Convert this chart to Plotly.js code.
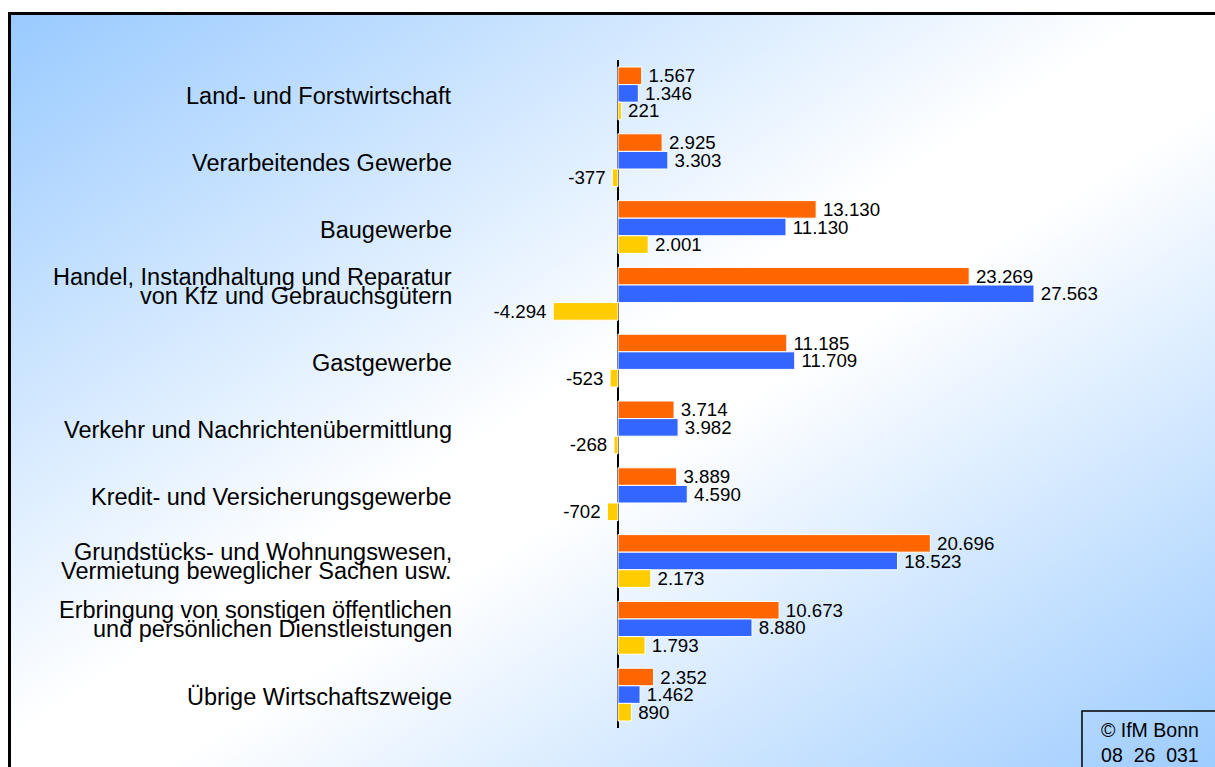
<!DOCTYPE html>
<html>
<head>
<meta charset="utf-8">
<script src="https://cdn.plot.ly/plotly-3.0.1.min.js"></script>
<style>
  html, body { margin: 0; padding: 0; width: 1215px; height: 767px; overflow: hidden; background: #ffffff; }
  #frame {
    position: absolute; left: 8px; top: 12px; width: 1220px; height: 770px;
    border: 3px solid #000000;
    background: linear-gradient(to bottom right, #99caff 0%, #ffffff 47%, #ffffff 55%, #99caff 100%);
  }
  #chart { position: absolute; left: 0; top: 0; width: 1215px; height: 767px; }
</style>
</head>
<body>
<div id="frame"></div>
<div id="chart"></div>
<script>
// Categories (top to bottom); "<br>" marks a line break in the label
const categories = [
  "Land- und Forstwirtschaft",
  "Verarbeitendes Gewerbe",
  "Baugewerbe",
  "Handel, Instandhaltung und Reparatur<br>von Kfz und Gebrauchsgütern",
  "Gastgewerbe",
  "Verkehr und Nachrichtenübermittlung",
  "Kredit- und Versicherungsgewerbe",
  "Grundstücks- und Wohnungswesen,<br>Vermietung beweglicher Sachen usw.",
  "Erbringung von sonstigen öffentlichen<br>und persönlichen Dienstleistungen",
  "Übrige Wirtschaftszweige"
];
// Series values
const seriesOrange = [1567, 2925, 13130, 23269, 11185, 3714, 3889, 20696, 10673, 2352];
const seriesBlue   = [1346, 3303, 11130, 27563, 11709, 3982, 4590, 18523, 8880, 1462];
const seriesYellow = [221, -377, 2001, -4294, -523, -268, -702, 2173, 1793, 890];

const copyrightLines = ["© IfM Bonn", "08\u00a0\u00a026\u00a0\u00a0031"];

// label vertical nudges (px, positive = up) – pure styling
const labelLift = { 3: 7, 8: 8 };
const LINE_GAP = 19;

function fmtDE(v) {
  const neg = v < 0;
  let s = String(Math.abs(v));
  s = s.replace(/\B(?=(\d{3})+(?!\d))/g, ".");
  return neg ? "-" + s + "\u2009" : "\u2009" + s;
}

const FONT = "Arial, 'Liberation Sans', sans-serif";
const mk = (vals, color) => ({
  type: "bar",
  orientation: "h",
  y: categories,
  x: vals,
  text: vals.map(fmtDE),
  textposition: "outside",
  textfont: { family: FONT, size: 18.7, color: "#000000" },
  constraintext: "none",
  cliponaxis: false,
  marker: { color: color, line: { color: "#ffffff", width: 1 } },
  hoverinfo: "x+y"
});

const data = [
  mk(seriesOrange, "#ff6600"),
  mk(seriesBlue, "#3366ff"),
  mk(seriesYellow, "#ffcc00")
];

const annotations = [];
categories.forEach((c, ci) => {
  const lines = c.split("<br>");
  const n = lines.length;
  const lift = n > 1 ? (labelLift[ci] || 0) : -2.5;
  lines.forEach((ln, i) => {
    annotations.push({
      xref: "paper", yref: "y", x: 0, y: c,
      xanchor: "right", yanchor: "middle",
      xshift: -16,
      yshift: (n - 1) * LINE_GAP / 2 - i * LINE_GAP + lift,
      text: ln, showarrow: false,
      font: { family: FONT, size: 23.5, color: "#000000" }
    });
  });
});
annotations.push({
  xref: "paper", yref: "paper", x: 1.079, y: -0.0215,
  xanchor: "center", yanchor: "middle",
  text: copyrightLines.join("<br>"), showarrow: false,
  font: { family: FONT, size: 19.5, color: "#000000" }
});

const layout = {
  width: 1215, height: 767,
  margin: { l: 470, r: 115, t: 60, b: 39 },
  paper_bgcolor: "rgba(0,0,0,0)",
  plot_bgcolor: "rgba(0,0,0,0)",
  barmode: "group",
  bargap: 0.21,
  bargroupgap: 0,
  showlegend: false,
  xaxis: {
    range: [-9806, 31935],
    showgrid: false, showticklabels: false, ticks: "",
    zeroline: true, zerolinecolor: "#000000", zerolinewidth: 1.5,
    showline: false, fixedrange: true
  },
  yaxis: {
    type: "category",
    autorange: "reversed",
    showgrid: false, showticklabels: false, ticks: "",
    zeroline: false, showline: false, fixedrange: true
  },
  shapes: [{
    type: "rect", xref: "paper", yref: "paper",
    x0: 0.9714, x1: 1.4, y0: 0.0255, y1: -0.2,
    line: { color: "#000000", width: 1.5 },
    fillcolor: "rgba(0,0,0,0)"
  }],
  annotations: annotations
};

Plotly.newPlot("chart", data, layout, { displayModeBar: false, staticPlot: true });
</script>
</body>
</html>
